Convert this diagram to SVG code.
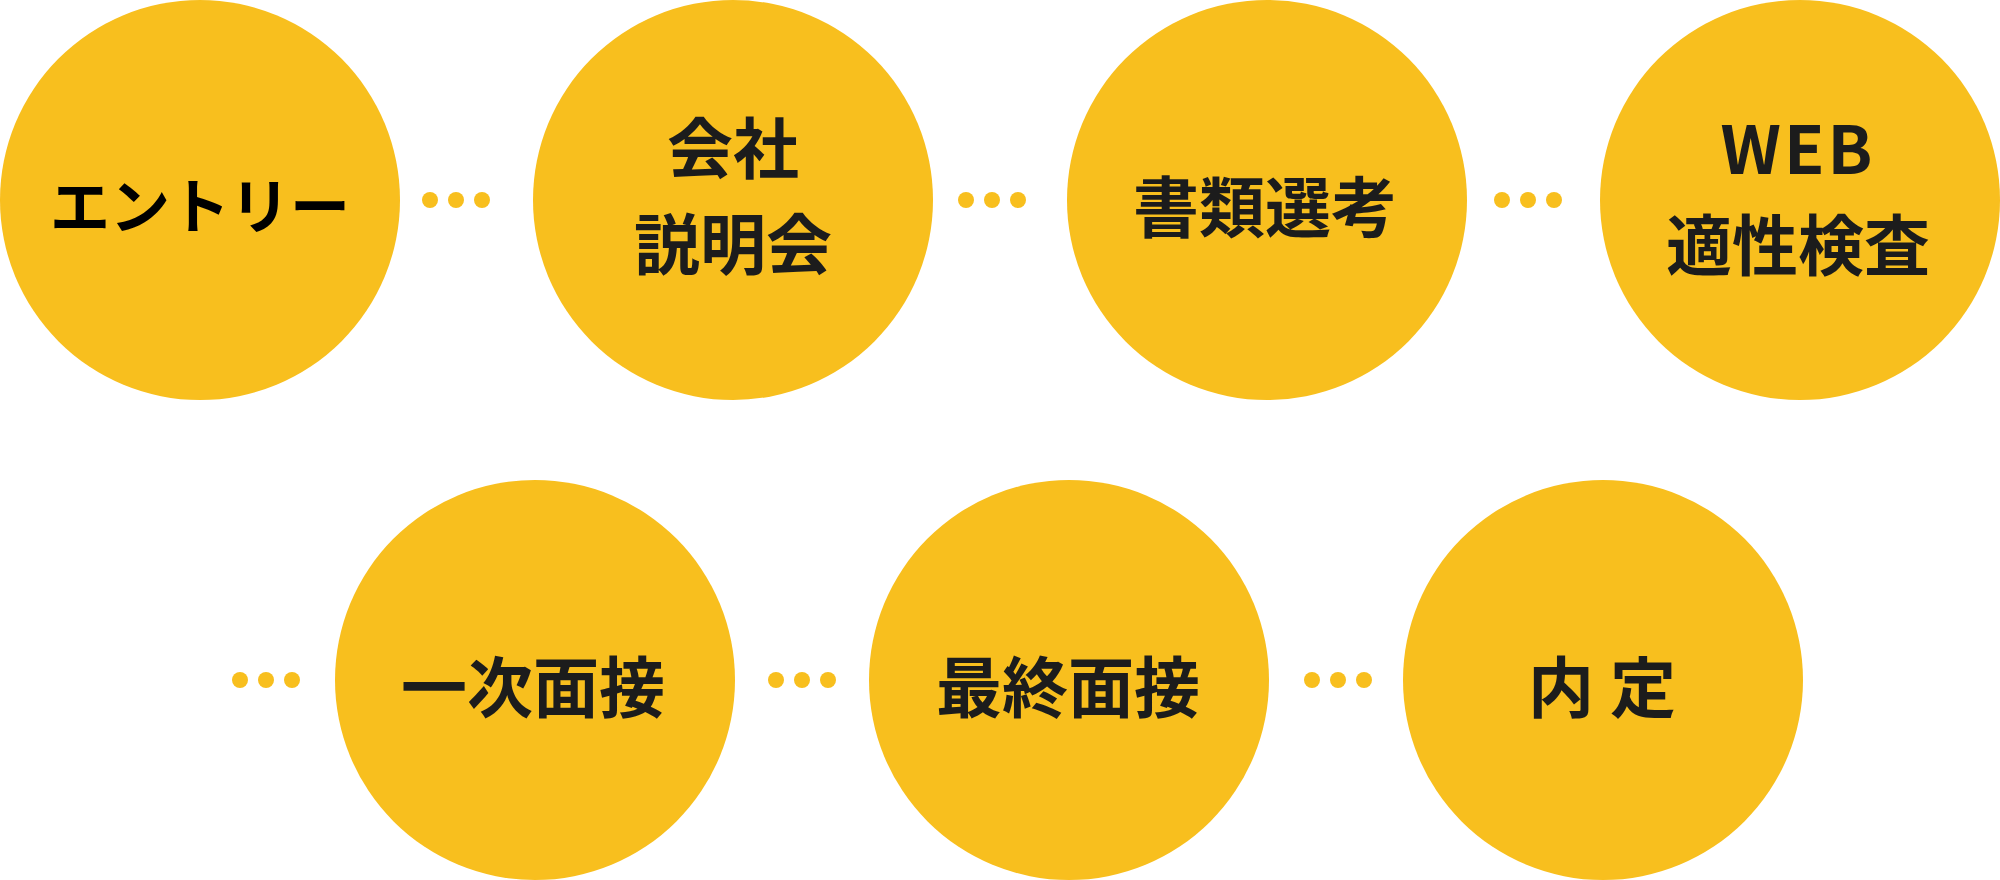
<svg xmlns="http://www.w3.org/2000/svg" width="2000" height="880" viewBox="0 0 2000 880">
<style>
.c{fill:#F8BF1E}
.d{fill:#F8BF1E}
.t{font-family:"Noto Sans CJK JP","Noto Sans",sans-serif;font-weight:700;font-size:66px;fill:#1c1c1c;text-anchor:middle}
.k{font-size:60px;fill:#000}
</style>
<rect width="2000" height="880" fill="#fff"/>
<g id="connectors">
<circle class="d" cx="430" cy="200" r="8"/><circle class="d" cx="456" cy="200" r="8"/><circle class="d" cx="482" cy="200" r="8"/>
<circle class="d" cx="966" cy="200" r="8"/><circle class="d" cx="992" cy="200" r="8"/><circle class="d" cx="1018" cy="200" r="8"/>
<circle class="d" cx="1502" cy="200" r="8"/><circle class="d" cx="1528" cy="200" r="8"/><circle class="d" cx="1554" cy="200" r="8"/>
<circle class="d" cx="240" cy="680" r="8"/><circle class="d" cx="266" cy="680" r="8"/><circle class="d" cx="292" cy="680" r="8"/>
<circle class="d" cx="776" cy="680" r="8"/><circle class="d" cx="802" cy="680" r="8"/><circle class="d" cx="828" cy="680" r="8"/>
<circle class="d" cx="1312" cy="680" r="8"/><circle class="d" cx="1338" cy="680" r="8"/><circle class="d" cx="1364" cy="680" r="8"/>
</g>
<g id="entry"><circle class="c" cx="200" cy="200" r="200"/><text class="t k" x="200" y="229">エントリー</text></g>
<g id="setsumeikai"><circle class="c" cx="733" cy="200" r="200"/><text class="t" x="733" y="173">会社</text><text class="t" x="733" y="269">説明会</text></g>
<g id="shorui"><circle class="c" cx="1267" cy="200" r="200"/><text class="t" x="1265" y="232">書類選考</text></g>
<g id="web"><circle class="c" cx="1800" cy="200" r="200"/><text class="t" x="1798" y="174" letter-spacing="3">WEB</text><text class="t" x="1798" y="270">適性検査</text></g>
<g id="ichiji"><circle class="c" cx="535" cy="680" r="200"/><text class="t" x="533" y="712">一次面接</text></g>
<g id="saishu"><circle class="c" cx="1069" cy="680" r="200"/><text class="t" x="1068" y="712">最終面接</text></g>
<g id="naitei"><circle class="c" cx="1603" cy="680" r="200"/><text class="t" x="1610" y="712" letter-spacing="16">内定</text></g>
</svg>
